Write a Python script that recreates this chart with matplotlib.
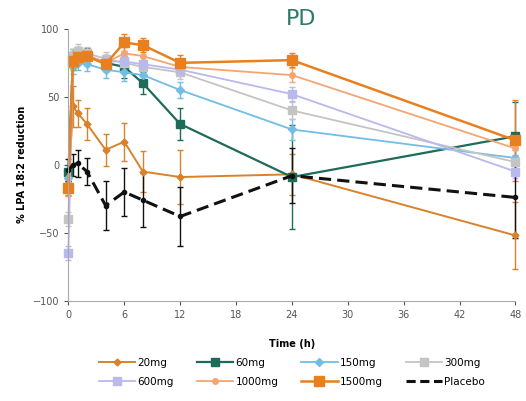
import numpy as np
import matplotlib.pyplot as plt
from matplotlib.lines import Line2D

# time points (h)
times = [0, 0.5, 1, 2, 4, 6, 8, 12, 24, 48]

# % LPA 18:2 reduction per dose
mg20 = [-15, 43, 38, 30, 11, 17, -5, -9, -7, -52]
mg20_err = [8, 15, 10, 12, 12, 14, 15, 20, 15, 25]
mg60 = [-5, 80, 82, 80, 75, 72, 60, 30, -9, 21]
mg60_err = [5, 5, 5, 6, 6, 8, 8, 12, 38, 25]
mg150 = [-10, 72, 75, 74, 70, 68, 66, 55, 26, 5]
mg150_err = [5, 5, 5, 5, 6, 6, 6, 6, 8, 6]
mg300 = [-40, 80, 84, 82, 78, 75, 72, 68, 40, 2]
mg300_err = [5, 5, 5, 5, 5, 5, 5, 5, 6, 5]
mg600 = [-65, 78, 80, 80, 76, 76, 74, 70, 52, -5]
mg600_err = [5, 5, 5, 5, 5, 5, 5, 5, 5, 5]
mg1000 = [-18, 78, 80, 80, 75, 82, 80, 72, 66, 12]
mg1000_err = [5, 5, 5, 5, 5, 5, 5, 5, 5, 5]
mg1500 = [-17, 76, 79, 80, 74, 90, 88, 75, 77, 18]
mg1500_err = [5, 6, 5, 5, 5, 6, 5, 6, 5, 30]
placebo = [-4, 0, 1, -5, -30, -20, -26, -38, -8, -24]
placebo_err = [8, 8, 10, 10, 18, 18, 20, 22, 20, 30]

labels = ['20mg', '60mg', '150mg', '300mg', '600mg', '1000mg', '1500mg', 'Placebo']

series = [
    (mg20, mg20_err, '#d9822b', 'D', 3.5, 1.4, '-'),
    (mg60, mg60_err, '#1d6b58', 's', 6, 1.6, '-'),
    (mg150, mg150_err, '#72bde6', 'D', 4, 1.3, '-'),
    (mg300, mg300_err, '#c4c4c4', 's', 6, 1.3, '-'),
    (mg600, mg600_err, '#b9b9ec', 's', 6, 1.3, '-'),
    (mg1000, mg1000_err, '#f2a673', 'o', 4, 1.3, '-'),
    (mg1500, mg1500_err, '#e8801f', 's', 7, 1.8, '-'),
    (placebo, placebo_err, '#111111', 'o', 3, 2.2, '--'),
]

fig, ax = plt.subplots(figsize=(5.26, 4.01), dpi=100)
fig.subplots_adjust(left=0.13, right=0.98, top=0.928, bottom=0.25)

handles = []
for (vals, err, col, mk, ms, lw, ls), lab in zip(series, labels):
    eb = ax.errorbar(times, vals, yerr=err, color=col, marker=mk, markersize=ms,
                     linewidth=lw, linestyle=ls, elinewidth=1, capsize=2.5,
                     dashes=(4, 2) if ls == '--' else None)
    for art in eb.lines[0:1] + tuple(eb.lines[1]) + tuple(eb.lines[2]):
        art.set_clip_on(False)
    h = Line2D([], [], color=col, marker=mk if ls == '-' else None, markersize=ms,
               linewidth=lw, linestyle=ls, label=lab)
    if ls == '--':
        h.set_dashes((3, 1.5))
    handles.append(h)

ax.set_xlim(0, 48)
ax.set_ylim(-100, 100)
ax.set_xticks(range(0, 49, 6))
ax.set_yticks([-100, -50, 0, 50, 100])
ax.tick_params(labelsize=7, colors='#555555', length=3)
for s in ['top', 'right']:
    ax.spines[s].set_visible(False)
for s in ['left', 'bottom']:
    ax.spines[s].set_color('#aaaaaa')

ax.set_xlabel('Time (h)', fontsize=7, fontweight='bold', labelpad=14)
ax.set_ylabel('% LPA 18:2 reduction', fontsize=7, fontweight='bold')
ax.set_title('PD', fontsize=16, color='#2e7b6c', pad=2, x=0.52)

# row-wise legend order for 4 columns
order = [0, 4, 1, 5, 2, 6, 3, 7]
ax.legend([handles[i] for i in order], [labels[i] for i in order],
          loc='upper center', bbox_to_anchor=(0.5, -0.19), ncol=4,
          frameon=False, fontsize=7.5, handlelength=3.5, columnspacing=2.2,
          handletextpad=0.2, labelspacing=0.9, borderpad=0)

fig.savefig('out.png', dpi=100)
